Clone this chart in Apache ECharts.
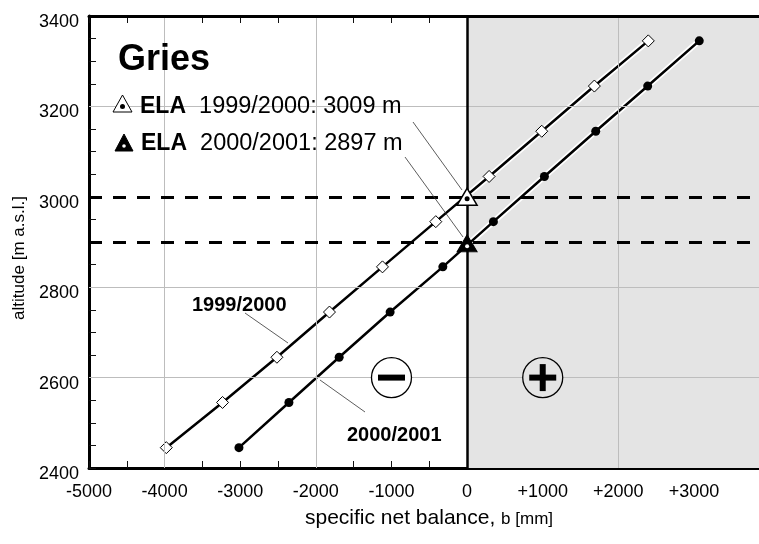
<!DOCTYPE html>
<html>
<head>
<meta charset="utf-8">
<script src="https://cdn.jsdelivr.net/npm/echarts@6/dist/echarts.min.js"></script>
<style>
html,body{margin:0;padding:0;background:#fff;}
#chart{width:759px;height:544px;}
</style>
</head>
<body>
<div id="chart"></div>
<script>
// ---- data ----
const glacierName = 'Gries';
const years = ['1999/2000', '2000/2001'];
const altitudes = [2445, 2545, 2645, 2745, 2845, 2945, 3045, 3145, 3245, 3345];
const balance9900 = [-3978, -3234, -2515, -1820, -1119, -414, 291, 987, 1683, 2396];
const balance0001 = [-3017, -2356, -1692, -1018, -321, 348, 1022, 1701, 2388, 3070];
const elaValues = [3009, 2897];
const dashedLevels = [3000, 2900];
const gridX = [-4000, -2000, 2000];
const gridY = [2600, 2800, 3200];
const xMin = -5000, xMax = 3860, xTickStep = 500, xLabelStep = 1000;
const yMin = 2400, yMax = 3400, yStep = 200;
const signMarks = [[-1000, 2600, '-'], [1000, 2600, '+']];

const FONT = 'Liberation Sans, Arial, Helvetica, sans-serif';
const chart = echarts.init(document.getElementById('chart'), null, {renderer: 'canvas'});

const pairs = (xs) => xs.map((x, i) => [x, altitudes[i]]);
const fmtX = (v) => (v % xLabelStep !== 0 || v === xMax) ? '' : (v > 0 ? '+' + v : String(v));

const axisCommon = {
  type: 'value', min: xMin, max: xMax, interval: xTickStep, gridIndex: 0, show: true,
  axisLine: {show: true, onZero: false, lineStyle: {color: '#000', width: 3}},
  axisTick: {show: true, inside: true, length: 7, lineStyle: {color: '#111', width: 1}},
  minorTick: {show: false},
  splitLine: {show: false}
};

const option = {
  animation: false,
  backgroundColor: '#fff',
  grid: {left: 89, top: 16, right: 0, bottom: 76, containLabel: false},
  xAxis: [
    Object.assign({}, axisCommon, {
      position: 'bottom',
      name: '{a|specific net balance, }{b|b [mm]}',
      nameLocation: 'middle', nameGap: 40,
      nameTextStyle: {padding: [0, 0, 0, 10], rich: {
        a: {fontFamily: FONT, fontSize: 21, color: '#000'},
        b: {fontFamily: FONT, fontSize: 17, color: '#000', padding: [2, 0, 0, 0]}
      }},
      axisLabel: {show: true, formatter: fmtX, showMaxLabel: false, margin: 15,
        fontFamily: FONT, fontSize: 18, color: '#000'}
    }),
    Object.assign({}, axisCommon, {
      position: 'top',
      axisLabel: {show: false}
    })
  ],
  yAxis: [{
    type: 'value', min: yMin, max: yMax, interval: yStep,
    name: 'altitude [m a.s.l.]', nameLocation: 'middle', nameGap: 55,
    nameTextStyle: {fontFamily: FONT, fontSize: 17, color: '#000', padding: [0, 32, 0, 0]},
    axisLine: {show: true, onZero: false, lineStyle: {color: '#000', width: 3}},
    axisTick: {show: true, inside: true, length: 7, lineStyle: {color: '#111', width: 1}},
    minorTick: {show: true, splitNumber: 4, length: 7, lineStyle: {color: '#111', width: 1}},
    splitLine: {show: false},
    axisLabel: {margin: 10, formatter: (v) => '{a|' + v + '}',
      rich: {a: {fontFamily: FONT, fontSize: 18, color: '#000', padding: [12, 0, 0, 0]}}}
  }],
  series: [
    // background: gray positive region, gridlines
    {
      type: 'line', z: 1, data: [[xMin, yMin]], symbol: 'none', silent: true,
      lineStyle: {opacity: 0},
      markArea: {silent: true, itemStyle: {color: '#e4e4e4', opacity: 1},
        data: [[{xAxis: 0}, {xAxis: xMax}]]},
      markLine: {silent: true, symbol: 'none', label: {show: false},
        lineStyle: {color: '#bdbdbd', width: 1, type: 'solid', opacity: 1},
        data: gridX.map(v => ({xAxis: v})).concat(gridY.map(v => ({yAxis: v})))}
    },
    // zero line, dashed ELA levels, top frame
    {
      type: 'line', z: 2, data: [[xMin, yMin]], symbol: 'none', silent: true,
      lineStyle: {opacity: 0},
      markLine: {silent: true, symbol: 'none', label: {show: false},
        data: [{xAxis: 0, lineStyle: {color: '#000', width: 2.5, type: 'solid', opacity: 1}},
               {yAxis: yMax, lineStyle: {color: '#000', width: 3, type: 'solid', opacity: 1}}]
          .concat(dashedLevels.map(v => ({yAxis: v, lineStyle: {color: '#000', width: 3, type: [13, 11], opacity: 1}})))}
    },
    // white halos
    {type: 'line', z: 3, data: pairs(balance9900), symbol: 'none', silent: true,
      lineStyle: {color: '#fff', width: 6}},
    {type: 'line', z: 3, data: pairs(balance0001), symbol: 'none', silent: true,
      lineStyle: {color: '#fff', width: 6}},
    // data lines
    {name: years[0], type: 'line', z: 4, data: pairs(balance9900),
      symbol: 'diamond', symbolSize: 12, showAllSymbol: true,
      lineStyle: {color: '#000', width: 2.5},
      itemStyle: {color: '#fff', borderColor: '#000', borderWidth: 1, opacity: 1}},
    {name: years[1], type: 'line', z: 4, data: pairs(balance0001),
      symbol: 'circle', symbolSize: 9, showAllSymbol: true,
      lineStyle: {color: '#000', width: 2.5},
      itemStyle: {color: '#000', borderColor: '#000', borderWidth: 0, opacity: 1}},
    // ELA triangles
    {type: 'scatter', z: 5, symbol: 'triangle', symbolSize: [20, 17],
      data: [
        {value: [0, elaValues[0]], symbolOffset: [0, 4], itemStyle: {color: '#fff', borderColor: '#000', borderWidth: 1.5, opacity: 1}},
        {value: [0, elaValues[1]], itemStyle: {color: '#000', borderColor: '#000', borderWidth: 1, opacity: 1}}
      ]},
    {type: 'scatter', z: 6, symbol: 'circle',
      data: [
        {value: [0, elaValues[0]], symbolSize: 5, symbolOffset: [0, 6], itemStyle: {color: '#000', opacity: 1}},
        {value: [0, elaValues[1]], symbolSize: 4, symbolOffset: [0, 3], itemStyle: {color: '#fff', opacity: 1}}
      ]},
    // minus / plus signs
    {type: 'scatter', z: 5, symbol: 'circle', symbolSize: 40,
      data: signMarks.map(s => ({value: [s[0], s[1]],
        itemStyle: {color: s[0] < 0 ? '#fff' : '#e4e4e4', borderColor: '#000', borderWidth: 1.3, opacity: 1}}))},
    {type: 'scatter', z: 6, symbol: 'rect', symbolSize: [27, 6], itemStyle: {color: '#000', opacity: 1},
      data: signMarks.map(s => [s[0], s[1]])},
    {type: 'scatter', z: 6, symbol: 'rect', symbolSize: [6, 27], itemStyle: {color: '#000', opacity: 1},
      data: signMarks.filter(s => s[2] === '+').map(s => [s[0], s[1]])}
  ],
  graphic: [
    {type: 'text', z: 100, x: 118, y: 60,
      style: {text: glacierName, font: 'bold 36px ' + FONT, fill: '#000', textVerticalAlign: 'middle'}},
    // legend row 1
    {type: 'polygon', z: 100, shape: {points: [[113, 112], [122.5, 95], [132, 112]]},
      style: {fill: '#fff', stroke: '#000', lineWidth: 1}},
    {type: 'circle', z: 101, shape: {cx: 122.5, cy: 106.5, r: 2.5}, style: {fill: '#000'}},
    {type: 'text', z: 100, x: 140, y: 106.5,
      style: {text: '{b|ELA}  ' + years[0] + ': ' + elaValues[0] + ' m', textVerticalAlign: 'middle',
        font: '23.5px ' + FONT, fill: '#000',
        rich: {b: {fontFamily: FONT, fontWeight: 'bold', fontSize: 23, fill: '#000'}}}},
    // legend row 2
    {type: 'polygon', z: 100, shape: {points: [[115, 151], [124, 134], [133, 151]]},
      style: {fill: '#000', stroke: '#000', lineWidth: 1}},
    {type: 'circle', z: 101, shape: {cx: 124, cy: 146, r: 1.8}, style: {fill: '#fff'}},
    {type: 'text', z: 100, x: 141, y: 143.5,
      style: {text: '{b|ELA}  ' + years[1] + ': ' + elaValues[1] + ' m', textVerticalAlign: 'middle',
        font: '23.5px ' + FONT, fill: '#000',
        rich: {b: {fontFamily: FONT, fontWeight: 'bold', fontSize: 23, fill: '#000'}}}},
    // leader lines
    {type: 'line', z: 100, shape: {x1: 413, y1: 122, x2: 462, y2: 190}, style: {stroke: '#333', lineWidth: 0.8}},
    {type: 'line', z: 100, shape: {x1: 405, y1: 157, x2: 463, y2: 237}, style: {stroke: '#333', lineWidth: 0.8}},
    {type: 'line', z: 100, shape: {x1: 245, y1: 313, x2: 288, y2: 343}, style: {stroke: '#333', lineWidth: 0.8}},
    {type: 'line', z: 100, shape: {x1: 365, y1: 412, x2: 320, y2: 380}, style: {stroke: '#333', lineWidth: 0.8}},
    // series labels
    {type: 'text', z: 100, x: 192, y: 305,
      style: {text: years[0], font: 'bold 20px ' + FONT, fill: '#000', textVerticalAlign: 'middle'}},
    {type: 'text', z: 100, x: 347, y: 435.5,
      style: {text: years[1], font: 'bold 20px ' + FONT, fill: '#000', textVerticalAlign: 'middle'}}
  ]
};
chart.setOption(option);
</script>
</body>
</html>
